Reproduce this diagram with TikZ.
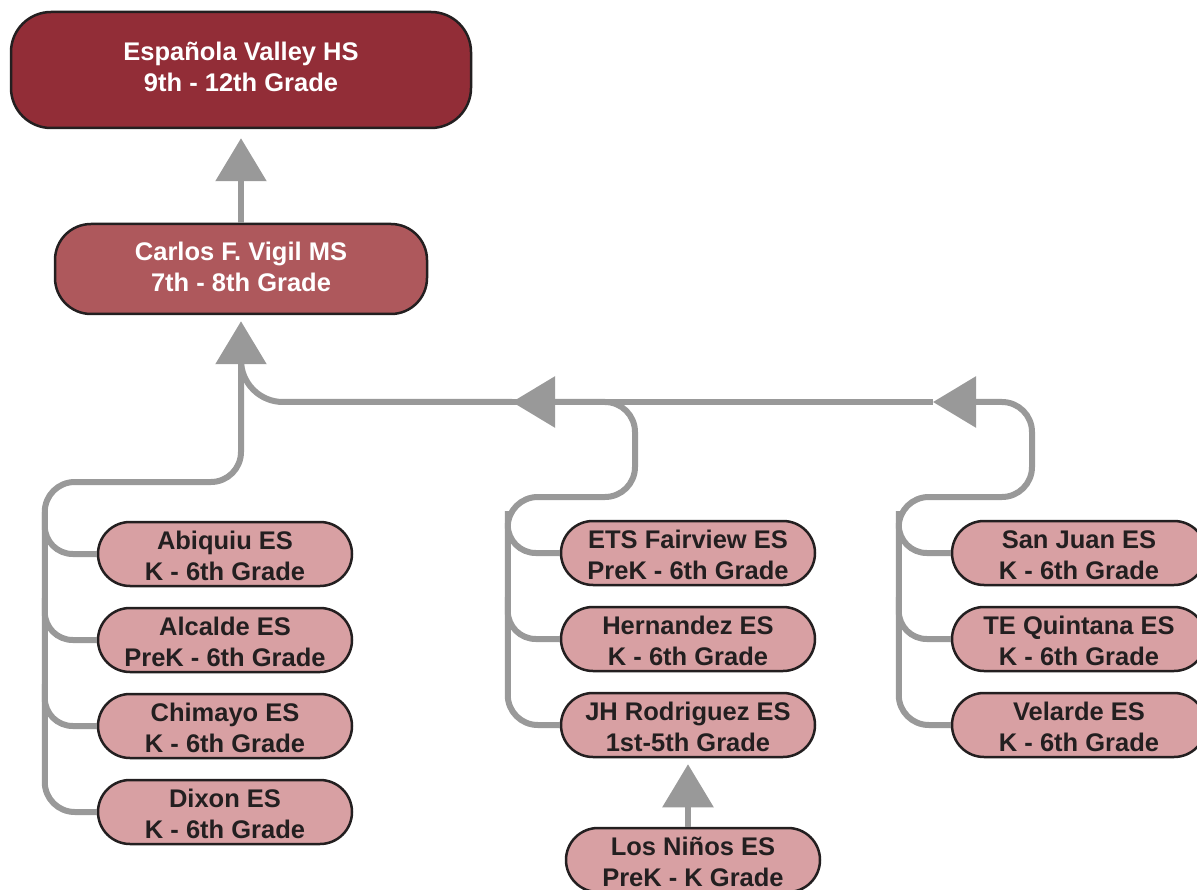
\documentclass[tikz,border=0pt]{standalone}
\usepackage{fontspec}
\setmainfont{Liberation Sans}
\usetikzlibrary{arrows.meta, positioning}
\definecolor{hsred}{HTML}{922D37}
\definecolor{msred}{HTML}{AE585C}
\definecolor{espink}{HTML}{D8A0A3}
\definecolor{linkgray}{HTML}{999999}
\definecolor{inkdark}{HTML}{231F20}
\tikzset{school/.style = {draw=inkdark, line width=2.5pt, align=center,
    font=\fontsize{25.5}{31}\selectfont\bfseries, inner xsep=2pt, inner ysep=0pt},
  hsbox/.style = {school, fill=hsred, text=white, text height=50pt, text depth=7.6pt,
    minimum width=460pt, minimum height=116pt, rounded corners=40pt},
  msbox/.style = {school, fill=msred, text=white, text height=50pt, text depth=5.6pt,
    minimum width=372pt, minimum height=90pt, rounded corners=36pt},
  esbox/.style = {school, fill=espink, text=inkdark, text height=54pt, text depth=1.6pt,
    minimum width=254pt, minimum height=64pt, rounded corners=32pt},
  link/.style = {draw=linkgray, line width=6pt, rounded corners=30pt},
  uplink/.style = {link, -{Triangle[length=43pt, width=50pt]}}}

\begin{document}
\begin{tikzpicture}[x=1pt, y=-1pt, node distance=19.5pt]
\useasboundingbox (0,0) rectangle (1197,890);

% schools
\node[hsbox] (hs) at (241,70) {Española Valley HS\\9th - 12th Grade};
\node[msbox] (ms) at (241,269) {Carlos F. Vigil MS\\7th - 8th Grade};

\node[esbox] (abiquiu) at (225,554) {Abiquiu ES\\K - 6th Grade};
\node[esbox, below=of abiquiu] (alcalde) {Alcalde ES\\PreK - 6th Grade};
\node[esbox, below=of alcalde] (chimayo) {Chimayo ES\\K - 6th Grade};
\node[esbox, below=of chimayo] (dixon) {Dixon ES\\K - 6th Grade};

\node[esbox] (ets) at (688,553) {ETS Fairview ES\\PreK - 6th Grade};
\node[esbox, below=of ets] (hernandez) {Hernandez ES\\K - 6th Grade};
\node[esbox, below=of hernandez] (jhr) {JH Rodriguez ES\\1st-5th Grade};
\node[esbox] (losninos) at (693,860) {Los Niños ES\\PreK - K Grade};

\node[esbox] (sanjuan) at (1079,553) {San Juan ES\\K - 6th Grade};
\node[esbox, below=of sanjuan] (quintana) {TE Quintana ES\\K - 6th Grade};
\node[esbox, below=of quintana] (velarde) {Velarde ES\\K - 6th Grade};

\coordinate (msin) at (241,362);
\coordinate (mtip) at (512,402);
\coordinate (rtip) at (933,402);

% bus
\draw[link] (rtip) -- (mtip);
\draw[link, rounded corners=42pt] (mtip) -- (241,402) -- (msin);

% branches
\foreach \s in {abiquiu, alcalde, chimayo, ets, hernandez, sanjuan, quintana}
  \draw[link, rounded corners=28pt] (\s.west) ++(-52,-42) |- (\s.west);

% trunks
\draw[uplink, shorten >=6pt] (dixon.west) -- ++(-52,0) |- (241,482) -- (ms.south);
\draw[uplink] (jhr.west) -- ++(-52,0) |- (635,497) -- (635,402) -- (mtip);
\draw[uplink] (velarde.west) -- ++(-52,0) |- (1032,497) -- (1032,402) -- (rtip);
\draw[uplink, shorten >=9pt] (ms) -- (hs);
\draw[uplink, shorten >=6pt] (losninos.north -| jhr.south) -- (jhr.south);
\end{tikzpicture}
\end{document}
